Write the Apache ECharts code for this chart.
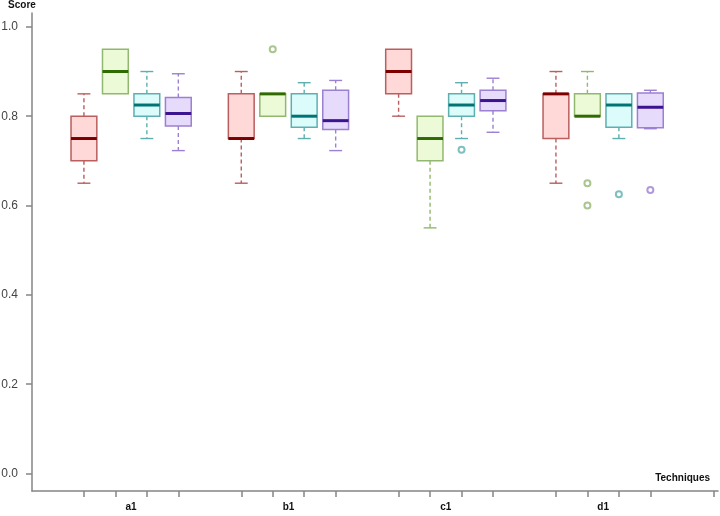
<!DOCTYPE html>
<html>
<head>
<meta charset="utf-8">
<script src="https://cdn.jsdelivr.net/npm/echarts@6/dist/echarts.min.js"></script>
<style>
  html, body { margin: 0; padding: 0; background: #fff; }
  #main { width: 720px; height: 516px; }
</style>
</head>
<body>
<div id="main"></div>
<script>
var myChart = echarts.init(document.getElementById('main'));

// groups on the x axis
var groups = ['a1', 'b1', 'c1', 'd1'];

// box stats per group: [min, Q1, median, Q3, max]
var redBox = [[0.65, 0.70, 0.75, 0.80, 0.85], [0.65, 0.75, 0.75, 0.85, 0.90], [0.80, 0.85, 0.90, 0.95, 0.95], [0.65, 0.75, 0.85, 0.85, 0.90]];
var greenBox = [[0.85, 0.85, 0.90, 0.95, 0.95], [0.80, 0.80, 0.85, 0.85, 0.85], [0.55, 0.70, 0.75, 0.80, 0.80], [0.80, 0.80, 0.80, 0.85, 0.90]];
var cyanBox = [[0.75, 0.80, 0.825, 0.85, 0.90], [0.75, 0.775, 0.80, 0.85, 0.875], [0.75, 0.80, 0.825, 0.85, 0.875], [0.75, 0.775, 0.825, 0.85, 0.85]];
var purpleBox = [[0.723, 0.778, 0.806, 0.842, 0.895], [0.723, 0.770, 0.790, 0.858, 0.880], [0.764, 0.812, 0.835, 0.858, 0.885], [0.772, 0.774, 0.820, 0.852, 0.858]];

// outliers: [group index, value]
var redOut = [];
var greenOut = [[1, 0.95], [3, 0.65], [3, 0.60]];
var cyanOut = [[2, 0.725], [3, 0.625]];
var purpleOut = [[3, 0.635]];

var yTicks = [0, 0.2, 0.4, 0.6, 0.8, 1.0];

var styles = [
  { name: 'red', fill: '#ffd8d8', border: '#bb5e5e', median: '#7d0000' },
  { name: 'green', fill: '#ecfad8', border: '#92b870', median: '#2f6b00' },
  { name: 'cyan', fill: '#dcfcfc', border: '#5eb0b0', median: '#007474' },
  { name: 'purple', fill: '#e7dbfc', border: '#9c80d2', median: '#3c148f' }
];
var boxes = [redBox, greenBox, cyanBox, purpleBox];
var outs = [redOut, greenOut, cyanOut, purpleOut];

// slot of box k in group g (one empty slot between groups)
function slot(g, k) { return 1 + 5 * g + k; }

var xTicks = [];
groups.forEach(function (g, gi) { for (var k = 0; k < 4; k++) xTicks.push(slot(gi, k)); });
xTicks.push(21);
var xLabels = groups.map(function (g, gi) { return slot(gi, 1.5); });

var font = "'Liberation Sans', Arial, Helvetica, sans-serif";

function makeRender(st) {
  return function (params, api) {
    var x = api.value(0);
    var pMin = api.coord([x, api.value(1)]);
    var pQ1 = api.coord([x, api.value(2)]);
    var pMed = api.coord([x, api.value(3)]);
    var pQ3 = api.coord([x, api.value(4)]);
    var pMax = api.coord([x, api.value(5)]);
    var w = api.size([0.82, 0])[0];
    var cx = pMed[0], half = w / 2, cap = w / 4;
    var kids = [];
    var dash = { stroke: st.border, lineWidth: 1.4, lineDash: [4, 3] };
    var solid = { stroke: st.border, lineWidth: 1.4 };
    if (pMax[1] < pQ3[1] - 0.5) {
      kids.push({ type: 'line', shape: { x1: cx, y1: pQ3[1], x2: cx, y2: pMax[1] }, style: dash });
    }
    if (pMax[1] < pQ3[1] - 0.1) {
      kids.push({ type: 'line', shape: { x1: cx - cap, y1: pMax[1], x2: cx + cap, y2: pMax[1] }, style: solid });
    }
    if (pMin[1] > pQ1[1] + 0.5) {
      kids.push({ type: 'line', shape: { x1: cx, y1: pQ1[1], x2: cx, y2: pMin[1] }, style: dash });
    }
    if (pMin[1] > pQ1[1] + 0.1) {
      kids.push({ type: 'line', shape: { x1: cx - cap, y1: pMin[1], x2: cx + cap, y2: pMin[1] }, style: solid });
    }
    kids.push({
      type: 'rect',
      shape: { x: cx - half, y: pQ3[1], width: w, height: pQ1[1] - pQ3[1] },
      style: { fill: st.fill, stroke: st.border, lineWidth: 1.5 }
    });
    kids.push({
      type: 'line',
      shape: { x1: cx - half, y1: pMed[1], x2: cx + half, y2: pMed[1] },
      style: { stroke: st.median, lineWidth: 3 }
    });
    return { type: 'group', children: kids };
  };
}

var series = [];
styles.forEach(function (st, si) {
  series.push({
    name: st.name,
    type: 'custom',
    renderItem: makeRender(st),
    encode: { x: 0, y: [1, 2, 3, 4, 5] },
    data: boxes[si].map(function (b, gi) { return [slot(gi, si)].concat(b); }),
    silent: true,
    z: 2
  });
  if (outs[si].length) {
    series.push({
      name: st.name + ' outliers',
      type: 'scatter',
      symbol: 'emptyCircle',
      symbolSize: 6,
      itemStyle: { color: st.border, borderColor: st.border, borderWidth: 1.4 },
      data: outs[si].map(function (o) { return [slot(o[0], si), o[1]]; }),
      silent: true,
      z: 3
    });
  }
});

var axisColor = '#858585';

option = {
  backgroundColor: '#fff',
  animation: false,
  textStyle: { fontFamily: font },
  grid: { left: 32, right: 2, top: 13, bottom: 25, containLabel: false, outerBoundsMode: 'none' },
  xAxis: {
    type: 'value',
    min: -0.65,
    max: 21.15,
    name: 'Techniques',
    nameLocation: 'end',
    nameGap: -8,
    nameTextStyle: { align: 'right', verticalAlign: 'bottom', fontSize: 10, fontWeight: 'bold', color: '#111', padding: [0, 0, 8, 0] },
    axisLine: { show: true, onZero: false, lineStyle: { color: axisColor, width: 1.5 } },
    axisTick: { show: true, customValues: xTicks, length: 6, lineStyle: { color: axisColor, width: 1.5 } },
    axisLabel: {
      customValues: xLabels,
      margin: 11,
      fontSize: 10,
      fontWeight: 'bold',
      color: '#111',
      formatter: function (v) {
        var i = xLabels.indexOf(v);
        return i >= 0 ? groups[i] : '';
      }
    },
    splitLine: { show: false }
  },
  yAxis: {
    type: 'value',
    min: -0.039,
    max: 1.031,
    name: 'Score',
    nameLocation: 'end',
    nameGap: 3,
    nameTextStyle: { align: 'center', verticalAlign: 'bottom', fontSize: 10, fontWeight: 'bold', color: '#111', padding: [0, 20, 0, 0] },
    axisLine: { show: true, onZero: false, lineStyle: { color: axisColor, width: 1.5 } },
    axisTick: { show: true, customValues: yTicks, length: 6, lineStyle: { color: axisColor, width: 1.5 } },
    axisLabel: {
      customValues: yTicks,
      margin: 14,
      fontSize: 12,
      color: '#444',
      formatter: function (v) { return v.toFixed(1); }
    },
    splitLine: { show: false }
  },
  series: series
};

myChart.setOption(option);
</script>
</body>
</html>
